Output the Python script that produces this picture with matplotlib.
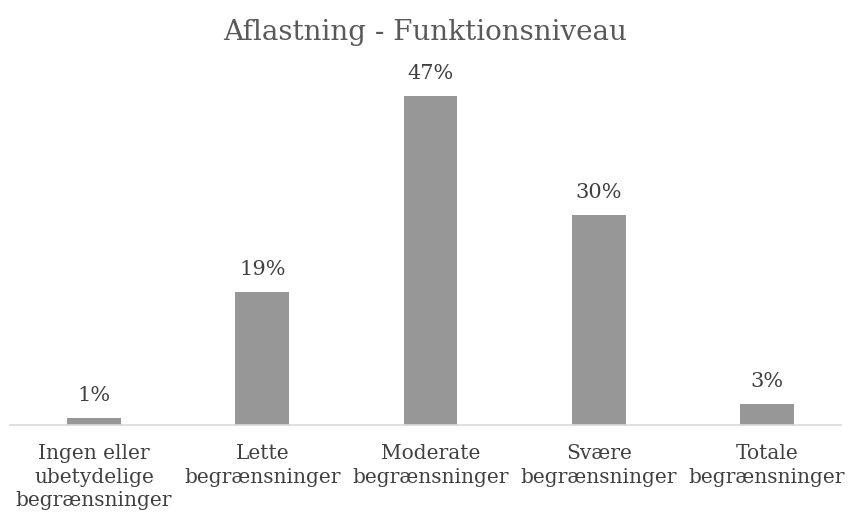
import matplotlib.pyplot as plt
import numpy as np

categories = ["Ingen eller\nubetydelige\nbegrænsninger",
              "Lette\nbegrænsninger",
              "Moderate\nbegrænsninger",
              "Svære\nbegrænsninger",
              "Totale\nbegrænsninger"]
values = [1, 19, 47, 30, 3]
title = "Aflastning - Funktionsniveau"

plt.rcParams['font.family'] = ['DejaVu Serif']

fig = plt.figure(figsize=(8.5, 5.23), dpi=100)
ax = fig.add_axes([10/850, 1 - 425/523, 841/850, 350/523])

x = np.arange(len(values))
bars = ax.bar(x, values, width=0.32, color='#979797')

for b, v in zip(bars, values):
    ax.text(b.get_x() + b.get_width()/2, v + 1.9, f"{v}%",
            ha='center', va='bottom', fontsize=15, color='#404040')

ax.set_xlim(-0.5, len(values) - 0.5)
ax.set_ylim(0, 50)
ax.set_xticks(x)
ax.set_xticklabels(categories, fontsize=14.5, color='#404040', linespacing=1.28)
ax.tick_params(axis='x', length=0, pad=14)
ax.set_yticks([])
for s in ['top', 'right', 'left']:
    ax.spines[s].set_visible(False)
ax.spines['bottom'].set_color('#d9d9d9')
ax.spines['bottom'].set_linewidth(1.2)
ax.spines['bottom'].set_bounds(-0.5, 4.44)

fig.text(0.5, 1 - 33/523, title, ha='center', va='center',
         fontsize=20, color='#595959')

fig.savefig('out.png', dpi=100)
